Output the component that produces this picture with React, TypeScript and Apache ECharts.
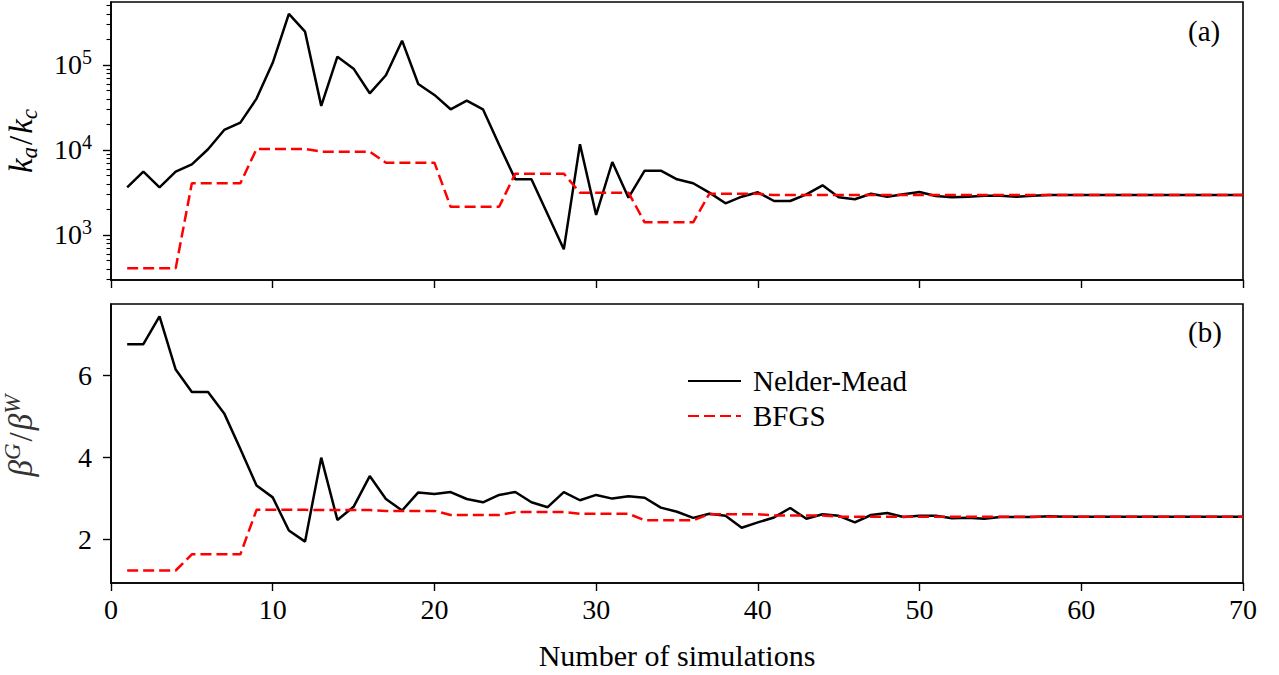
import React, { useEffect, useRef } from "react";
import * as echarts from "echarts";

const simulations = [
  1, 2, 3, 4, 5, 6, 7, 8, 9, 10, 11, 12, 13, 14, 15, 16, 17, 18, 19, 20,
  21, 22, 23, 24, 25, 26, 27, 28, 29, 30, 31, 32, 33, 34, 35, 36, 37, 38, 39, 40,
  41, 42, 43, 44, 45, 46, 47, 48, 49, 50, 51, 52, 53, 54, 55, 56, 57, 58, 59, 60,
  61, 62, 63, 64, 65, 66, 67, 68, 69, 70,
];

// panel (a): k_a / k_c
const nelderKa = [
  3640, 5560, 3640, 5560, 6780, 10190, 17200, 21000, 40200, 106000,
  398000, 246000, 33000, 125000, 90500, 46400, 75600, 193000, 59700, 44400,
  30100, 38000, 30100, 11500, 4520, 4520, 1750, 678, 11700, 1720,
  7220, 2750, 5710, 5710, 4520, 4060, 3150, 2360, 2820, 3180,
  2510, 2510, 3010, 3840, 2780, 2630, 3060, 2820, 3010, 3210,
  2880, 2780, 2820, 2900, 2900, 2820, 2900, 2950, 2950, 2950,
  2950, 2950, 2950, 2950, 2950, 2950, 2950, 2950, 2950, 2950,
];
const bfgsKa = [
  405, 405, 405, 405, 4060, 4060, 4060, 4060, 10270, 10270,
  10270, 10270, 9550, 9550, 9550, 9550, 7090, 7090, 7090, 7090,
  2150, 2150, 2150, 2150, 5270, 5270, 5270, 5270, 3150, 3150,
  3150, 3150, 1410, 1410, 1410, 1410, 3050, 3050, 3050, 3050,
  2950, 2950, 2950, 2950, 2950, 2950, 2950, 2950, 2950, 2950,
  2950, 2950, 2950, 2950, 2950, 2950, 2950, 2950, 2950, 2950,
  2950, 2950, 2950, 2950, 2950, 2950, 2950, 2950, 2950, 2950,
];

// panel (b): beta^G / beta^W
const nelderBeta = [
  6.76, 6.76, 7.44, 6.14, 5.59, 5.59, 5.07, 4.2, 3.31, 3.02,
  2.21, 1.94, 3.99, 2.47, 2.79, 3.54, 2.98, 2.7, 3.14, 3.1,
  3.15, 2.98, 2.9, 3.08, 3.15, 2.9, 2.78, 3.15, 2.95, 3.08,
  2.99, 3.05, 3.01, 2.77, 2.67, 2.52, 2.62, 2.57, 2.28, 2.41,
  2.53, 2.76, 2.5, 2.61, 2.57, 2.41, 2.59, 2.64, 2.54, 2.57,
  2.57, 2.51, 2.52, 2.5, 2.54, 2.54, 2.54, 2.56, 2.55, 2.55,
  2.55, 2.55, 2.55, 2.55, 2.55, 2.55, 2.55, 2.55, 2.55, 2.55,
];
const bfgsBeta = [
  1.235, 1.235, 1.235, 1.235, 1.63, 1.63, 1.63, 1.63, 2.715, 2.715,
  2.715, 2.715, 2.71, 2.71, 2.71, 2.71, 2.69, 2.69, 2.69, 2.69,
  2.59, 2.59, 2.59, 2.59, 2.66, 2.66, 2.66, 2.66, 2.62, 2.62,
  2.62, 2.62, 2.46, 2.46, 2.46, 2.46, 2.61, 2.61, 2.61, 2.61,
  2.58, 2.58, 2.58, 2.58, 2.55, 2.55, 2.55, 2.55, 2.55, 2.55,
  2.55, 2.55, 2.55, 2.55, 2.55, 2.55, 2.55, 2.55, 2.55, 2.55,
  2.55, 2.55, 2.55, 2.55, 2.55, 2.55, 2.55, 2.55, 2.55, 2.55,
];

const xTicks = [0, 10, 20, 30, 40, 50, 60, 70];
const kaMajorTicks = [1000, 10000, 100000];
const kaMinorTicks = [
  300, 400, 500, 600, 700, 800, 900,
  2000, 3000, 4000, 5000, 6000, 7000, 8000, 9000,
  20000, 30000, 40000, 50000, 60000, 70000, 80000, 90000,
  200000, 300000, 400000, 500000,
];
const betaTicks = [2, 4, 6];
const seriesNames = ["Nelder-Mead", "BFGS"];
const panelLabels = ["(a)", "(b)"];

const FONT = "Liberation Serif";
const FS = 28;
const NAME_FS = 33;
const SUB_FS = 23;

export default function App() {
  const ref = useRef<HTMLDivElement>(null);

  useEffect(() => {
    if (!ref.current) return;
    const chart = echarts.init(ref.current, undefined, { renderer: "svg" });

    const pair = (ys: number[]) => simulations.map((x, i) => [x, ys[i]]);
    const axisLine = { show: true, lineStyle: { color: "#000", width: 1.6 } };
    const tickStyle = { color: "#000", width: 1.4 };

    const xAxisBase = {
      type: "value",
      min: 0,
      max: 70,
      interval: 10,
      axisLine,
      axisTick: { show: true, inside: false, length: 8, lineStyle: tickStyle, customValues: xTicks },
      splitLine: { show: false },
    };

    const nameRich = (color: string, subAlign: string) => ({
      i: { fontFamily: FONT, fontSize: NAME_FS, fontStyle: "italic", color, lineHeight: 40 },
      n: { fontFamily: FONT, fontSize: NAME_FS, color, lineHeight: 40, padding: [0, 2, 0, 2] },
      s: { fontFamily: FONT, fontSize: SUB_FS, fontStyle: "italic", color, verticalAlign: subAlign, lineHeight: 22 },
    });

    const gridBase = {
      left: 111,
      width: 1132,
      show: true,
      borderColor: "#000",
      borderWidth: 1.6,
      containLabel: false,
      outerBoundsMode: "none",
    };

    const option: any = {
      animation: false,
      backgroundColor: "#fff",
      grid: [
        { ...gridBase, top: 2, height: 278 },
        { ...gridBase, top: 304, height: 279 },
      ],
      xAxis: [
        { ...xAxisBase, gridIndex: 0, axisLabel: { show: false } },
        {
          ...xAxisBase,
          gridIndex: 1,
          axisLabel: {
            show: true,
            color: "#000",
            fontFamily: FONT,
            fontSize: FS,
            margin: 12,
            customValues: xTicks,
          },
          name: "Number of simulations",
          nameLocation: "middle",
          nameGap: 57,
          nameTextStyle: { color: "#000", fontFamily: FONT, fontSize: 30 },
        },
      ],
      yAxis: [
        {
          type: "log",
          logBase: 10,
          gridIndex: 0,
          position: "left",
          min: 295.6,
          max: 550000,
          axisLine,
          axisTick: { show: true, length: 8, lineStyle: tickStyle, customValues: kaMajorTicks },
          axisLabel: {
            show: true,
            color: "#000",
            fontFamily: FONT,
            fontSize: FS,
            margin: 19,
            customValues: kaMajorTicks,
            formatter: (v: number) => "{b|10}{s|" + Math.round(Math.log10(v)) + "}",
            rich: {
              b: { fontFamily: FONT, fontSize: FS, color: "#000", lineHeight: 36 },
              s: { fontFamily: FONT, fontSize: 20, color: "#000", verticalAlign: "top", lineHeight: 20 },
            },
          },
          splitLine: { show: false },
          name: "{i|k}{s|a}{n|/}{i|k}{s|c}",
          nameLocation: "middle",
          nameRotate: 90,
          nameGap: 70,
          nameTextStyle: {
            color: "#000",
            fontFamily: FONT,
            fontSize: NAME_FS,
            rich: nameRich("#000", "bottom"),
          },
        },
        {
          type: "log",
          logBase: 10,
          gridIndex: 0,
          position: "left",
          min: 295.6,
          max: 550000,
          axisLine: { show: false },
          axisTick: { show: true, length: 4.5, lineStyle: { color: "#000", width: 1.1 }, customValues: kaMinorTicks },
          axisLabel: { show: false },
          splitLine: { show: false },
        },
        {
          type: "value",
          gridIndex: 1,
          position: "left",
          min: 0.93,
          max: 7.74,
          axisLine,
          axisTick: { show: true, length: 8, lineStyle: tickStyle, customValues: betaTicks },
          axisLabel: {
            show: true,
            color: "#000",
            fontFamily: FONT,
            fontSize: FS,
            margin: 19,
            customValues: betaTicks,
          },
          splitLine: { show: false },
          name: "{i|β}{s|G}{n|/}{i|β}{s|W}",
          nameLocation: "middle",
          nameRotate: 90,
          nameGap: 70,
          nameTextStyle: {
            color: "#333",
            fontFamily: FONT,
            fontSize: NAME_FS,
            padding: [0, 0, 0, 16],
            rich: nameRich("#333", "top"),
          },
        },
      ],
      legend: {
        show: true,
        left: 682,
        top: 361,
        orient: "vertical",
        itemWidth: 53,
        itemHeight: 14,
        itemGap: 5,
        data: seriesNames,
        itemStyle: { opacity: 0 },
        textStyle: { color: "#000", fontFamily: FONT, fontSize: 29, lineHeight: 30, padding: [0, 0, 0, 7] },
      },
      graphic: [
        { type: "text", left: 1188, top: 16, style: { text: panelLabels[0], font: `29px "${FONT}"`, fill: "#000" } },
        { type: "text", left: 1188, top: 317, style: { text: panelLabels[1], font: `29px "${FONT}"`, fill: "#000" } },
      ],
      series: [
        {
          name: seriesNames[0],
          type: "line",
          xAxisIndex: 0,
          yAxisIndex: 0,
          data: pair(nelderKa),
          symbol: "none",
          lineStyle: { color: "#000", width: 2.5 },
          itemStyle: { color: "#000" },
        },
        {
          name: seriesNames[1],
          type: "line",
          xAxisIndex: 0,
          yAxisIndex: 0,
          data: pair(bfgsKa),
          symbol: "none",
          lineStyle: { color: "#ff0000", width: 2.5, type: [11, 5] },
          itemStyle: { color: "#ff0000" },
        },
        {
          name: seriesNames[0],
          type: "line",
          xAxisIndex: 1,
          yAxisIndex: 2,
          data: pair(nelderBeta),
          symbol: "none",
          lineStyle: { color: "#000", width: 2.5 },
          itemStyle: { color: "#000" },
        },
        {
          name: seriesNames[1],
          type: "line",
          xAxisIndex: 1,
          yAxisIndex: 2,
          data: pair(bfgsBeta),
          symbol: "none",
          lineStyle: { color: "#ff0000", width: 2.5, type: [11, 5] },
          itemStyle: { color: "#ff0000" },
        },
      ],
    };

    chart.setOption(option);
    return () => chart.dispose();
  }, []);

  return (
    <div
      ref={ref}
      style={{ position: "fixed", left: 0, top: 0, width: 1279, height: 675, background: "#fff" }}
    />
  );
}
